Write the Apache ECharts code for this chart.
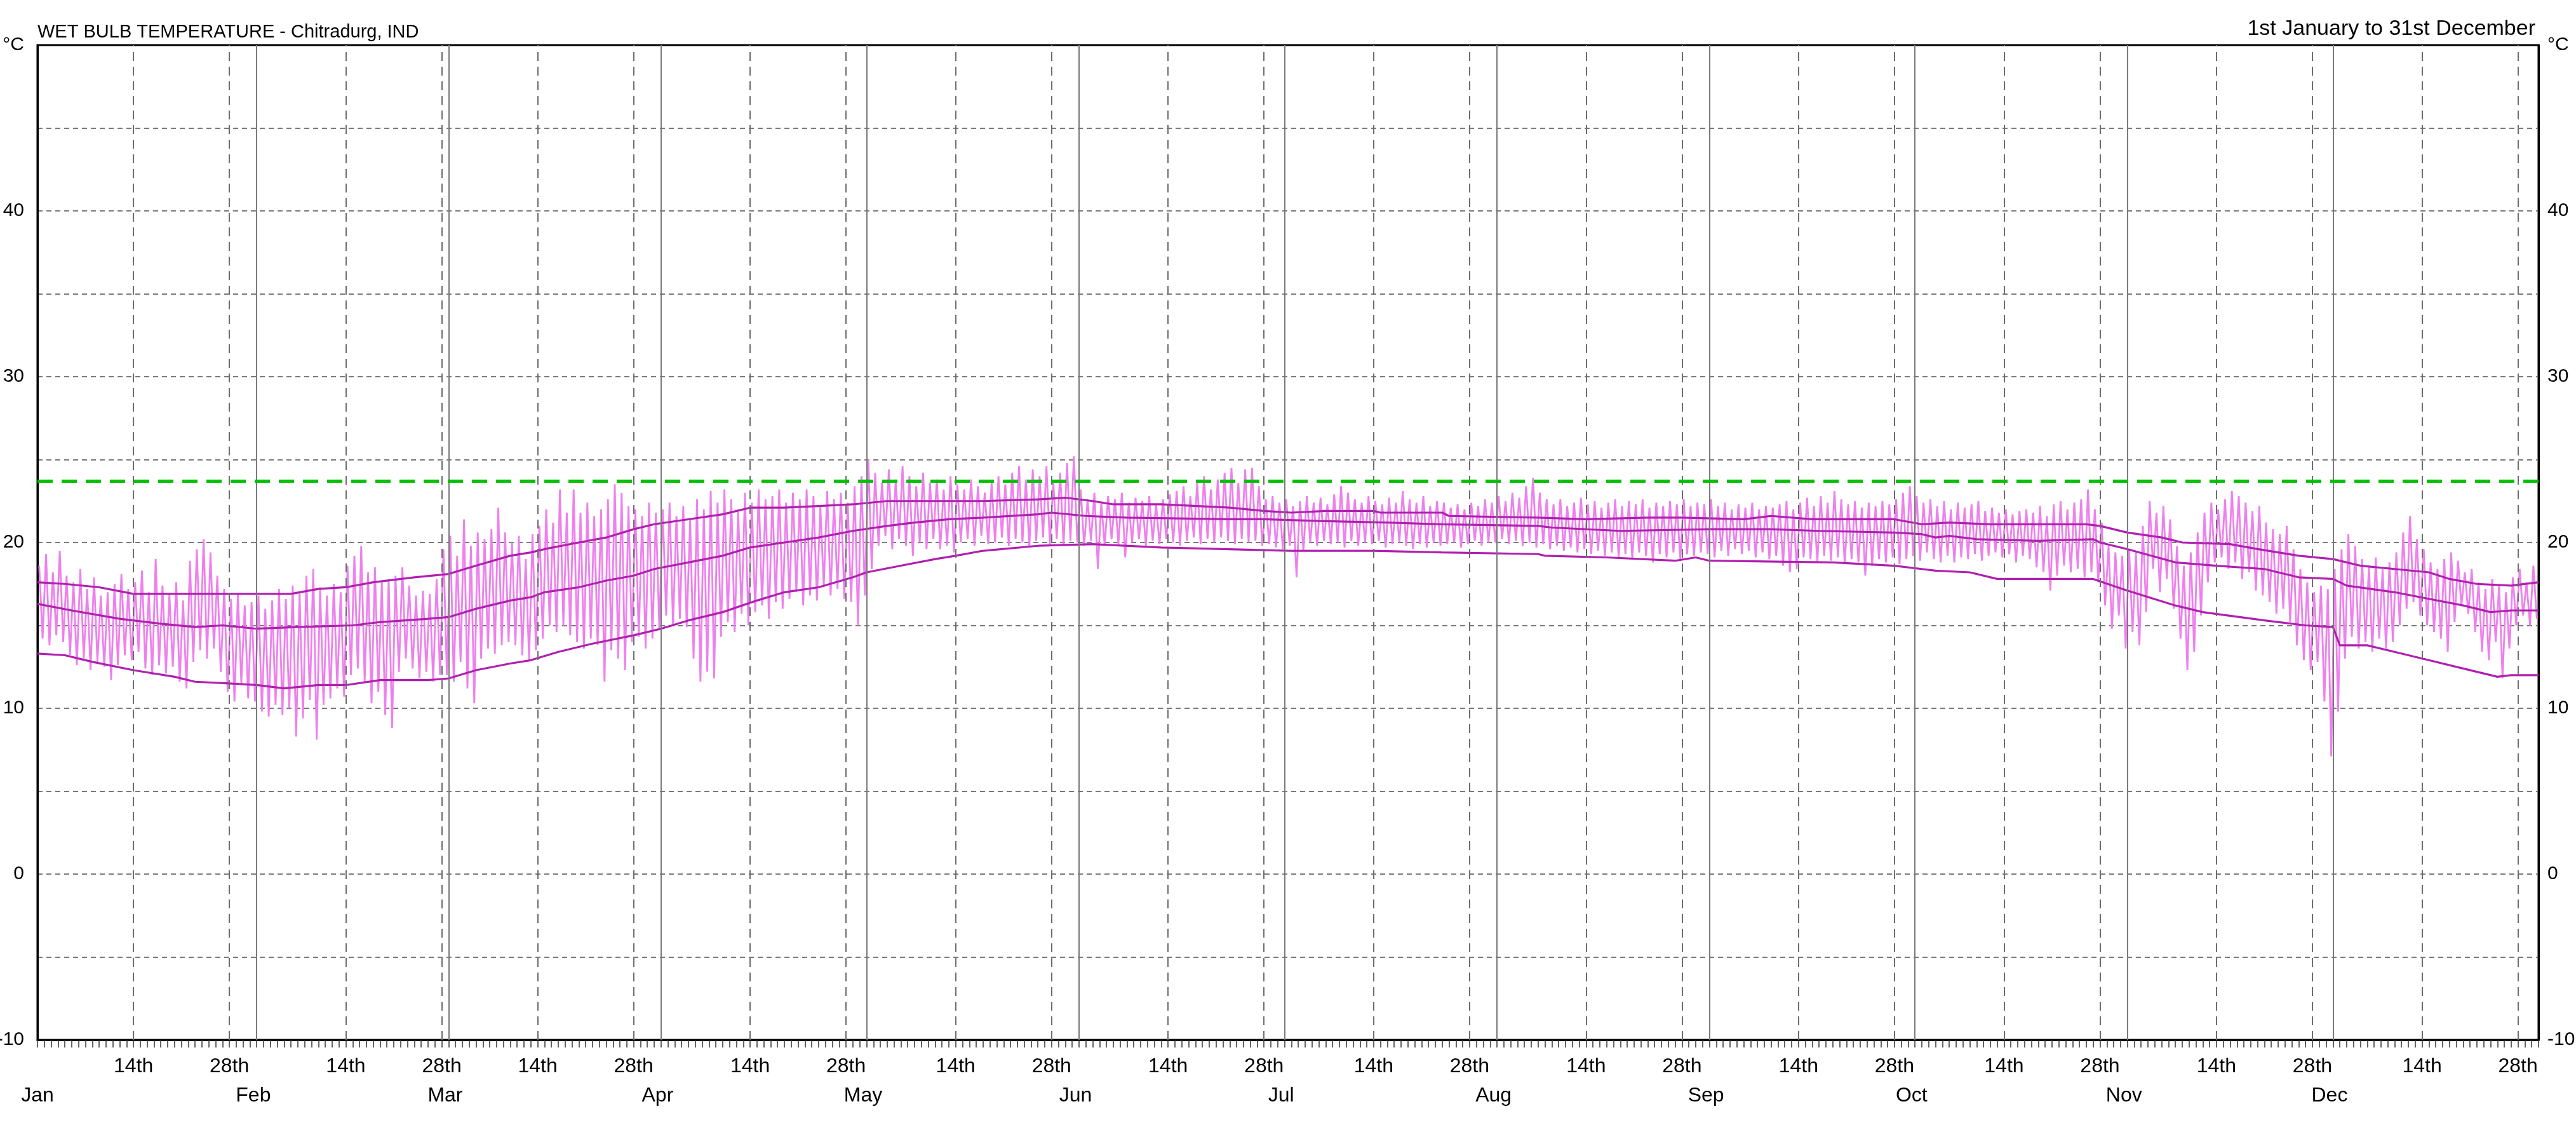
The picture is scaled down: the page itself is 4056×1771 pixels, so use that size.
<!DOCTYPE html>
<html>
<head>
<meta charset="utf-8">
<style>
html,body{margin:0;padding:0;background:#fff;}
#c{width:4056px;height:1771px;}
</style>
<script src="https://cdn.jsdelivr.net/npm/echarts@6/dist/echarts.min.js"></script>
</head>
<body>
<div id="c"></div>
<script>
// ---- tick labels / calendar ----
const monthNames = ['Jan','Feb','Mar','Apr','May','Jun','Jul','Aug','Sep','Oct','Nov','Dec'];
const monthFirstDoy = [1,32,60,91,121,152,182,213,244,274,305,335];
const dayLabels = ['14th','28th'];
const yLabelValues = [-10,0,10,20,30,40];
const comfortLimit = 23.7;

// ---- daily wet bulb high / low (°C) ----
const highJan = [18.6,19.3,18.2,19.5,18.0,17.6,18.4,17.2,17.9,16.8,17.0,17.5,18.1,17.2,17.6,18.3,17.0,19.0,17.4,16.9,17.6,16.5,18.9,19.6,20.2,19.4,18.0,17.2,16.6,16.9,16.2];
const lowJan  = [14.2,13.8,14.4,14.0,13.2,12.6,13.0,12.3,12.8,12.5,11.7,12.6,13.2,12.9,13.4,12.4,12.0,12.6,12.1,12.5,11.6,11.2,12.8,13.5,13.0,13.6,12.2,11.0,10.4,11.5,10.6];
const highFeb = [16.4,16.8,16.0,16.5,17.2,16.6,17.4,17.0,18.0,18.4,17.3,16.8,17.5,17.0,18.6,19.2,19.8,18.2,18.5,17.6,17.8,18.0,18.5,17.4,16.8,17.1,16.9,17.8];
const lowFeb  = [10.4,9.8,9.5,10.2,9.6,10.0,8.3,9.4,10.5,8.1,10.2,10.6,11.2,10.7,12.0,12.4,11.6,10.3,11.0,9.6,8.8,12.2,13.0,12.4,11.8,12.2,11.6,12.0];
const highMar = [19.6,20.4,19.2,21.4,19.8,20.6,20.2,20.8,22.1,20.6,20.0,20.4,19.0,20.5,21.0,22.0,21.2,23.2,21.8,23.2,21.8,22.4,21.6,22.0,22.6,23.5,23.0,22.2,22.0,21.6,22.4];
const lowMar  = [12.0,11.6,12.8,11.2,10.3,13.0,13.6,13.3,13.8,14.0,13.8,13.2,12.9,13.5,14.2,15.0,14.6,15.0,14.4,14.0,13.6,14.2,13.8,11.6,13.5,13.0,12.3,14.0,14.3,13.6,14.2];
const highApr = [21.8,22.0,22.4,21.6,22.2,21.4,22.6,22.0,23.1,22.4,23.2,22.6,22.0,23.0,22.4,23.2,22.6,22.8,23.2,22.4,23.0,22.6,23.2,22.8,22.2,23.1,22.6,23.0,22.4,23.4];
const lowApr  = [14.8,15.6,15.0,15.4,14.9,13.0,11.6,12.2,11.8,14.3,15.2,14.6,15.7,15.0,15.8,16.2,15.4,16.4,16.0,16.6,17.0,16.2,16.8,16.5,17.3,16.8,17.2,16.6,16.4,15.0];
const highMay = [24.0,25.0,24.2,23.6,24.4,23.8,24.6,24.0,23.4,24.2,23.6,23.8,23.2,24.0,23.5,23.2,23.8,23.4,23.0,23.6,24.0,23.5,24.2,24.6,23.8,24.4,24.0,24.6,23.6,24.2,24.8];
const lowMay  = [16.8,18.4,19.8,20.4,19.6,20.2,19.8,19.2,20.0,19.6,20.2,19.6,19.8,19.4,20.0,20.2,19.8,20.4,19.9,20.0,20.3,19.8,20.2,20.0,19.7,20.1,20.3,19.9,20.2,19.8,20.1];
const highJun = [25.2,23.2,22.6,23.0,22.4,22.8,22.6,23.0,22.4,22.7,22.5,22.8,22.3,22.6,22.9,23.1,23.4,22.8,23.6,24.0,23.2,23.8,24.2,24.5,23.6,24.4,24.5,23.4,22.6,22.8];
const lowJun  = [20.0,19.8,20.1,18.4,19.8,20.2,19.9,19.1,20.0,20.2,19.8,20.1,19.9,20.2,20.0,19.8,20.1,20.3,19.9,20.2,20.0,20.3,20.1,19.9,20.2,20.0,20.1,19.8,19.9,19.7];
const highJul = [22.4,22.6,22.2,22.5,22.8,22.4,22.7,22.3,22.9,23.4,23.0,22.6,22.4,22.8,22.5,22.3,22.7,22.4,23.1,22.6,22.4,22.8,22.2,22.5,22.4,22.1,22.3,22.0,22.4,22.2,22.6];
const lowJul  = [19.6,19.8,17.9,19.5,20.0,19.8,20.1,19.9,20.0,19.7,20.1,19.8,20.0,19.9,20.1,19.7,19.9,20.0,19.8,19.6,19.9,19.7,20.0,19.8,19.9,20.0,19.7,19.9,20.1,19.8,20.0];
const highAug = [22.4,22.8,22.5,23.0,22.7,23.4,23.9,23.0,22.6,22.3,22.6,22.2,22.4,22.7,22.3,22.5,22.1,22.4,22.6,22.2,22.5,22.3,22.6,22.1,22.4,22.2,22.5,22.3,22.6,22.2,22.4];
const lowAug  = [20.0,20.2,19.9,20.1,19.8,20.0,19.7,19.9,19.6,19.8,19.5,19.7,19.4,19.6,19.3,19.5,19.2,19.4,19.1,19.3,19.0,19.4,19.2,18.8,19.3,19.1,19.4,19.0,19.3,19.2,19.4];
const highSep = [22.3,22.6,22.2,22.4,22.0,22.3,22.1,22.4,22.0,22.2,22.1,22.3,22.5,22.0,22.4,22.7,22.2,22.8,22.4,23.1,22.6,22.3,22.5,22.1,22.4,22.2,22.5,22.3,22.6,23.0];
const lowSep  = [19.3,19.1,19.5,19.2,19.6,19.3,19.5,19.1,19.4,19.0,19.2,18.6,18.2,18.4,19.1,19.0,18.8,19.2,18.9,19.1,18.7,19.0,18.8,18.0,18.6,19.0,18.8,19.1,18.7,19.0];
const highOct = [23.4,22.8,22.4,22.6,22.2,22.5,22.0,22.4,22.1,22.3,22.5,21.9,22.1,21.8,22.0,21.7,21.9,22.0,21.8,22.2,21.6,22.3,22.5,22.0,22.4,22.6,23.2,22.0,21.2,19.8,19.4];
const lowOct  = [19.2,18.9,19.4,19.0,18.8,19.2,18.8,19.1,19.0,19.3,18.9,19.2,19.4,19.1,19.3,18.8,19.2,19.0,18.5,18.2,17.1,18.0,18.6,18.2,18.4,17.9,18.2,17.6,16.2,14.8,15.6];
const highNov = [19.2,19.6,19.4,21.0,22.5,21.8,22.2,21.4,19.8,18.6,19.4,20.6,21.8,22.4,22.0,22.6,23.1,22.8,22.4,21.9,22.2,21.2,20.8,20.5,21.0,19.6,18.4,17.6,17.0,17.4];
const lowNov  = [13.6,14.6,13.8,15.8,18.4,17.0,17.8,16.0,14.2,12.3,13.4,15.6,17.6,18.8,19.1,18.4,18.8,17.8,18.2,17.1,16.8,16.4,15.7,16.0,15.2,13.8,12.9,12.3,12.8,10.4];
const highDec = [17.2,18.4,19.6,20.5,19.8,19.0,18.6,19.1,18.4,18.8,19.4,20.6,21.6,20.2,19.6,18.8,18.4,19.0,19.4,18.9,18.2,18.4,17.6,17.2,17.8,17.4,17.0,17.9,18.4,17.6,18.6];
const lowDec  = [7.1,9.8,13.0,14.3,13.6,14.0,13.4,14.2,13.6,14.0,15.0,16.0,16.4,15.6,15.0,14.6,14.2,13.4,15.2,16.2,15.7,14.6,13.4,12.9,14.0,11.8,13.6,15.0,15.6,15.0,15.4];

// ---- climatological curves [day of year, °C] ----
const upperCurve = [[0,17.6],[4,17.5],[9,17.3],[14,16.9],[28,16.9],[37,16.9],[41,17.2],[45,17.3],[49,17.6],[55,17.9],[60,18.1],[64,18.6],[69,19.2],[72,19.4],[74,19.6],[79,20.0],[83,20.3],[87,20.8],[90,21.1],[95,21.4],[100,21.7],[104,22.1],[109,22.1],[114,22.2],[119,22.3],[124,22.5],[133,22.5],[138,22.5],[146,22.6],[150,22.7],[154,22.5],[157,22.3],[164,22.3],[174,22.1],[179,21.9],[183,21.8],[188,21.9],[195,21.9],[196,21.8],[205,21.8],[206,21.6],[219,21.5],[226,21.4],[235,21.5],[240,21.5],[249,21.4],[253,21.6],[259,21.4],[271,21.4],[275,21.1],[279,21.2],[285,21.1],[291,21.1],[299,21.1],[301,21.0],[305,20.6],[310,20.3],[313,20.0],[320,19.9],[324,19.6],[330,19.2],[335,19.0],[339,18.6],[344,18.4],[349,18.2],[352,17.8],[356,17.5],[361,17.4],[365,17.6]];
const meanCurve = [[0,16.3],[5,15.9],[12,15.4],[18,15.1],[23,14.9],[27,15.0],[32,14.8],[38,14.9],[46,15.0],[50,15.2],[57,15.4],[60,15.5],[64,16.0],[69,16.5],[72,16.7],[74,17.0],[79,17.3],[83,17.7],[87,18.0],[90,18.4],[95,18.8],[100,19.2],[104,19.7],[109,20.0],[114,20.3],[119,20.7],[124,21.0],[128,21.2],[133,21.4],[138,21.5],[146,21.7],[148,21.8],[153,21.6],[159,21.5],[174,21.4],[179,21.4],[187,21.3],[197,21.2],[205,21.1],[219,21.0],[221,20.9],[231,20.7],[244,20.8],[253,20.8],[260,20.7],[271,20.6],[275,20.5],[277,20.3],[279,20.4],[283,20.2],[292,20.1],[300,20.2],[301,20.0],[305,19.6],[312,18.8],[318,18.6],[325,18.4],[330,17.9],[335,17.8],[337,17.4],[344,17.0],[349,16.6],[354,16.2],[358,15.8],[361,15.9],[365,15.9]];
const lowerCurve = [[0,13.3],[4,13.2],[8,12.8],[14,12.3],[20,11.9],[23,11.6],[28,11.5],[32,11.4],[36,11.2],[41,11.4],[45,11.4],[50,11.7],[57,11.7],[60,11.8],[64,12.3],[69,12.7],[72,12.9],[76,13.4],[81,13.9],[87,14.4],[91,14.8],[95,15.3],[100,15.8],[105,16.5],[109,17.0],[114,17.3],[119,17.9],[121,18.2],[126,18.6],[131,19.0],[134,19.2],[138,19.5],[146,19.8],[154,19.9],[164,19.7],[173,19.6],[183,19.5],[195,19.5],[205,19.4],[219,19.3],[220,19.2],[229,19.1],[239,18.9],[242,19.1],[244,18.9],[262,18.8],[271,18.6],[275,18.4],[277,18.3],[282,18.2],[286,17.8],[292,17.8],[300,17.8],[305,17.1],[312,16.2],[316,15.8],[325,15.3],[331,15.0],[335,14.9],[336,13.8],[340,13.8],[344,13.4],[349,12.9],[354,12.4],[359,11.9],[361,12.0],[365,12.0]];

// ---- build ----
const dailyHigh = [].concat(highJan,highFeb,highMar,highApr,highMay,highJun,highJul,highAug,highSep,highOct,highNov,highDec);
const dailyLow  = [].concat(lowJan,lowFeb,lowMar,lowApr,lowMay,lowJun,lowJul,lowAug,lowSep,lowOct,lowNov,lowDec);
const wetBulb = [];
for (let d = 0; d < dailyHigh.length; d++) {
  wetBulb.push([d + 0.25, dailyHigh[d]]);
  wetBulb.push([d + 0.75, dailyLow[d]]);
}
const midTicks = [];
const midText = {};
monthFirstDoy.forEach(function (m) {
  midTicks.push(m + 13); midText[m + 13] = dayLabels[0];
  midTicks.push(m + 27); midText[m + 27] = dayLabels[1];
});
const monthLabelPos = monthFirstDoy.map(function (m, i) { return i === 0 ? 0 : m - 0.5; });
const monthText = {};
monthLabelPos.forEach(function (p, i) { monthText[p] = monthNames[i]; });

const FONT = "'Liberation Sans', Arial, sans-serif";
const vLines = [];
monthFirstDoy.slice(1).forEach(function (m) {
  vLines.push({ xAxis: m, lineStyle: { type: 'solid', color: '#7a7a7a', width: 2 } });
});
midTicks.forEach(function (t) {
  vLines.push({ xAxis: t, lineStyle: { type: [14, 9], color: '#6e6e6e', width: 2 } });
});

const yFmt = function (v) {
  if (v === 50) return '°C';
  return yLabelValues.indexOf(v) >= 0 ? String(v) : '';
};

const chart = echarts.init(document.getElementById('c'), null, { renderer: 'canvas' });
chart.setOption({
  animation: false,
  backgroundColor: '#ffffff',
  title: [
    { text: 'WET BULB TEMPERATURE - Chitradurg, IND', left: 59, top: 36, padding: 0,
      textStyle: { fontFamily: FONT, fontSize: 29, fontWeight: 'normal', color: '#000' } },
    { text: '1st January to 31st December', right: 64, top: 29, padding: 0,
      textStyle: { fontFamily: FONT, fontSize: 34, fontWeight: 'normal', color: '#000' } }
  ],
  grid: { left: 59, right: 59, top: 71, bottom: 134, containLabel: false, outerBoundsMode: 'none',
    show: true, borderColor: '#000', borderWidth: 3, backgroundColor: 'transparent' },
  xAxis: [
    {
      type: 'value', min: 0, max: 365, interval: 1, position: 'bottom',
      axisLine: { show: true, onZero: false, lineStyle: { color: '#000', width: 3 } },
      axisTick: { show: true, length: 12, lineStyle: { color: '#333', width: 1.5 } },
      axisLabel: { show: true, customValues: midTicks, margin: 26, fontFamily: FONT, fontSize: 32, color: '#000',
        formatter: function (v) { return midText[v] || ''; } },
      splitLine: { show: false }
    },
    {
      type: 'value', min: 0, max: 365, position: 'bottom', offset: 46,
      axisLine: { show: false, onZero: false }, axisTick: { show: false },
      axisLabel: { show: true, customValues: monthLabelPos, margin: 26, fontFamily: FONT, fontSize: 32, color: '#000',
        formatter: function (v) { return monthText[v] || ''; } },
      splitLine: { show: false }
    }
  ],
  yAxis: [
    {
      type: 'value', min: -10, max: 50, interval: 5, position: 'left',
      axisLine: { show: true, onZero: false, lineStyle: { color: '#000', width: 3 } },
      axisTick: { show: false },
      axisLabel: { margin: 21, fontFamily: FONT, fontSize: 30, color: '#000', formatter: yFmt },
      splitLine: { show: true, showMinLine: false, showMaxLine: false, lineStyle: { type: [8, 6], color: '#7a7a7a', width: 2 } }
    },
    {
      type: 'value', min: -10, max: 50, interval: 5, position: 'right',
      axisLine: { show: true, onZero: false, lineStyle: { color: '#000', width: 3 } },
      axisTick: { show: false },
      axisLabel: { margin: 14, fontFamily: FONT, fontSize: 30, color: '#000', formatter: yFmt },
      splitLine: { show: false }
    }
  ],
  series: [
    {
      name: 'grid', type: 'line', data: [], z: 1, silent: true,
      markLine: { silent: true, symbol: ['none', 'none'], label: { show: false }, animation: false, data: vLines }
    },
    {
      name: 'Wet bulb', type: 'line', data: wetBulb, z: 2, showSymbol: false, symbol: 'none', sampling: null,
      lineStyle: { color: '#ee80ee', width: 2.8 }
    },
    { name: 'Upper', type: 'line', data: upperCurve, z: 3, symbol: 'none', lineStyle: { color: '#b020b0', width: 3.2 } },
    { name: 'Mean', type: 'line', data: meanCurve, z: 3, symbol: 'none', lineStyle: { color: '#b020b0', width: 3.2 } },
    { name: 'Lower', type: 'line', data: lowerCurve, z: 3, symbol: 'none', lineStyle: { color: '#b020b0', width: 3.2 } },
    {
      name: 'limit', type: 'line', data: [], z: 4, silent: true,
      markLine: { silent: true, symbol: ['none', 'none'], label: { show: false }, animation: false,
        data: [{ yAxis: comfortLimit, lineStyle: { type: [24, 14], color: '#00c000', width: 5 } }] }
    }
  ]
});
</script>
</body>
</html>
